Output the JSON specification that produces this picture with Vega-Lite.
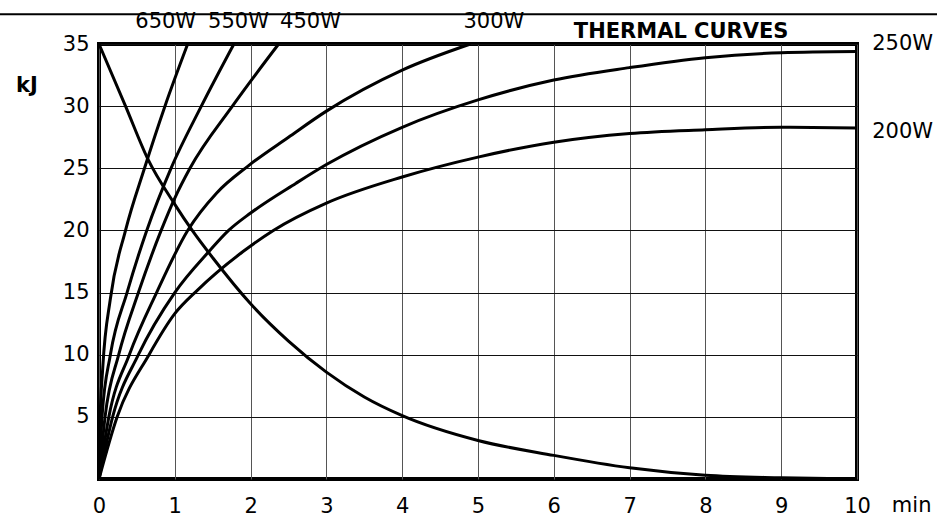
{
  "$schema": "https://vega.github.io/schema/vega-lite/v6.json",
  "width": 758,
  "height": 435,
  "autosize": "none",
  "padding": {"left": 99, "top": 44, "right": 80, "bottom": 40},
  "background": "white",
  "config": {
    "view": {"stroke": "black", "strokeWidth": 4},
    "font": "DejaVu Sans"
  },
  "datasets": {
    "curves": [
      {"c":"650W","t":0,"kj":0},{"c":"650W","t":0.01,"kj":4},{"c":"650W","t":0.05,"kj":9},{"c":"650W","t":0.15,"kj":14.5},{"c":"650W","t":0.35,"kj":20},{"c":"650W","t":0.6,"kj":25},{"c":"650W","t":0.87,"kj":30},{"c":"650W","t":1.17,"kj":35},
      {"c":"550W","t":0,"kj":0},{"c":"550W","t":0.04,"kj":5},{"c":"550W","t":0.15,"kj":10},{"c":"550W","t":0.37,"kj":15},{"c":"550W","t":0.63,"kj":20},{"c":"550W","t":0.95,"kj":25},{"c":"550W","t":1.35,"kj":30},{"c":"550W","t":1.78,"kj":35},
      {"c":"450W","t":0,"kj":0},{"c":"450W","t":0.08,"kj":5},{"c":"450W","t":0.26,"kj":10},{"c":"450W","t":0.52,"kj":15},{"c":"450W","t":0.82,"kj":20},{"c":"450W","t":1.0,"kj":22.6},{"c":"450W","t":1.2,"kj":25},{"c":"450W","t":1.76,"kj":30},{"c":"450W","t":2.37,"kj":35},
      {"c":"300W","t":0,"kj":0},{"c":"300W","t":0.13,"kj":5},{"c":"300W","t":0.4,"kj":10},{"c":"300W","t":0.76,"kj":15},{"c":"300W","t":1.17,"kj":20},{"c":"300W","t":1.55,"kj":23},{"c":"300W","t":1.97,"kj":25.2},{"c":"300W","t":2.5,"kj":27.5},{"c":"300W","t":3,"kj":29.6},{"c":"300W","t":4,"kj":32.9},{"c":"300W","t":4.9,"kj":35},
      {"c":"250W","t":0,"kj":0},{"c":"250W","t":0.18,"kj":5},{"c":"250W","t":0.52,"kj":10},{"c":"250W","t":1.0,"kj":15},{"c":"250W","t":1.45,"kj":18.3},{"c":"250W","t":1.71,"kj":20},{"c":"250W","t":2,"kj":21.4},{"c":"250W","t":2.6,"kj":23.8},{"c":"250W","t":3,"kj":25.3},{"c":"250W","t":4,"kj":28.3},{"c":"250W","t":5,"kj":30.5},{"c":"250W","t":6,"kj":32.1},{"c":"250W","t":7,"kj":33.1},{"c":"250W","t":8,"kj":33.9},{"c":"250W","t":9,"kj":34.3},{"c":"250W","t":10,"kj":34.4},
      {"c":"200W","t":0,"kj":0},{"c":"200W","t":0.24,"kj":5},{"c":"200W","t":0.66,"kj":10},{"c":"200W","t":1,"kj":13.3},{"c":"200W","t":1.3,"kj":15.2},{"c":"200W","t":1.9,"kj":18.3},{"c":"200W","t":2.3,"kj":20},{"c":"200W","t":3,"kj":22.2},{"c":"200W","t":4,"kj":24.3},{"c":"200W","t":5,"kj":25.9},{"c":"200W","t":6,"kj":27.1},{"c":"200W","t":7,"kj":27.8},{"c":"200W","t":8,"kj":28.1},{"c":"200W","t":9,"kj":28.3},{"c":"200W","t":10,"kj":28.25},
      {"c":"decay","t":0,"kj":35},{"c":"decay","t":0.35,"kj":30},{"c":"decay","t":0.64,"kj":25.8},{"c":"decay","t":1,"kj":22.1},{"c":"decay","t":1.23,"kj":20},{"c":"decay","t":1.5,"kj":17.8},{"c":"decay","t":2,"kj":14.1},{"c":"decay","t":2.5,"kj":11.1},{"c":"decay","t":3,"kj":8.6},{"c":"decay","t":3.5,"kj":6.6},{"c":"decay","t":4,"kj":5.1},{"c":"decay","t":5,"kj":3.1},{"c":"decay","t":6,"kj":1.9},{"c":"decay","t":7,"kj":0.9},{"c":"decay","t":8,"kj":0.3},{"c":"decay","t":9,"kj":0.1},{"c":"decay","t":10,"kj":0}
    ],
    "topLabels": [
      {"label":"650W","t":0.88,"kj":36.8},
      {"label":"550W","t":1.84,"kj":36.8},
      {"label":"450W","t":2.79,"kj":36.8},
      {"label":"300W","t":5.21,"kj":36.8}
    ],
    "sideLabels": [
      {"label":"250W","t":10.2,"kj":35.0},
      {"label":"200W","t":10.2,"kj":27.9},
      {"label":"min","t":10.46,"kj":-2.2}
    ],
    "boldLabels": [
      {"label":"THERMAL CURVES","t":7.68,"kj":36.0},
      {"label":"kJ","t":-0.95,"kj":31.6}
    ],
    "topRule": [
      {"t":-1.31,"t2":11.06,"kj":37.4}
    ]
  },
  "layer": [
    {
      "data": {"name": "curves"},
      "mark": {"type": "line", "color": "black", "strokeWidth": 3, "interpolate": "monotone"},
      "encoding": {
        "x": {
          "field": "t", "type": "quantitative",
          "scale": {"domain": [0, 10], "nice": false, "zero": false},
          "axis": {
            "values": [0,1,2,3,4,5,6,7,8,9,10],
            "format": "d",
            "labelFlush": false,
            "title": null, "domain": false, "ticks": false,
            "labelFontSize": 21, "labelColor": "black", "labelPadding": 16,
            "labelFont": "DejaVu Sans",
            "grid": true, "gridColor": "#555", "gridWidth": 1, "gridOpacity": 1
          }
        },
        "y": {
          "field": "kj", "type": "quantitative",
          "scale": {"domain": [0, 35], "nice": false, "zero": false},
          "axis": {
            "values": [5,10,15,20,25,30,35],
            "format": "d",
            "labelFlush": false,
            "title": null, "domain": false, "ticks": false,
            "labelFontSize": 21, "labelColor": "black", "labelPadding": 10,
            "labelFont": "DejaVu Sans",
            "grid": true, "gridColor": "#111", "gridWidth": 1, "gridOpacity": 1
          }
        },
        "detail": {"field": "c", "type": "nominal"}
      }
    },
    {
      "data": {"name": "topRule"},
      "mark": {"type": "rule", "color": "black", "strokeWidth": 2, "clip": false},
      "encoding": {
        "x": {"field": "t", "type": "quantitative"},
        "x2": {"field": "t2"},
        "y": {"field": "kj", "type": "quantitative"}
      }
    },
    {
      "data": {"name": "topLabels"},
      "mark": {"type": "text", "font": "DejaVu Sans", "fontSize": 21, "align": "center", "baseline": "middle", "color": "black"},
      "encoding": {
        "x": {"field": "t", "type": "quantitative"},
        "y": {"field": "kj", "type": "quantitative"},
        "text": {"field": "label"}
      }
    },
    {
      "data": {"name": "sideLabels"},
      "mark": {"type": "text", "font": "DejaVu Sans", "fontSize": 21, "align": "left", "baseline": "middle", "color": "black"},
      "encoding": {
        "x": {"field": "t", "type": "quantitative"},
        "y": {"field": "kj", "type": "quantitative"},
        "text": {"field": "label"}
      }
    },
    {
      "data": {"name": "boldLabels"},
      "mark": {"type": "text", "font": "DejaVu Sans", "fontSize": 21, "fontWeight": "bold", "align": "center", "baseline": "middle", "color": "black"},
      "encoding": {
        "x": {"field": "t", "type": "quantitative"},
        "y": {"field": "kj", "type": "quantitative"},
        "text": {"field": "label"}
      }
    }
  ]
}
